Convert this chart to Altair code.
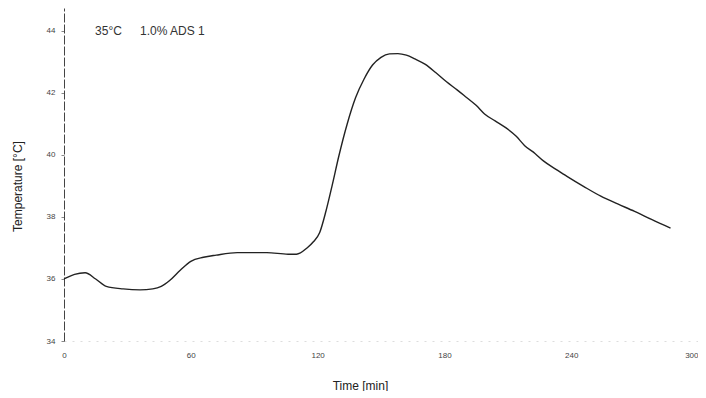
import altair as alt
import pandas as pd

time_min = [0, 5, 10, 15, 20, 28, 36, 42, 46, 50, 55, 60, 66, 72, 82, 96, 106, 110, 115, 118, 121, 124,
            127, 130, 134, 138, 142, 146, 150, 154, 158, 162, 166, 171, 176, 181, 186, 190, 195, 199,
            204, 209, 214, 218, 223, 227, 233, 238, 246, 254, 262, 270, 278, 287]
temperature = [36.0, 36.15, 36.2, 36.0, 35.76, 35.68, 35.65, 35.68, 35.76, 35.95, 36.28, 36.57, 36.7, 36.77,
               36.85, 36.85, 36.8, 36.8, 37.0, 37.2, 37.5, 38.2,
               39.05, 39.95, 41.0, 41.85, 42.45, 42.9, 43.15, 43.26, 43.27, 43.22, 43.1, 42.92, 42.65,
               42.36, 42.1, 41.88, 41.6, 41.32, 41.1, 40.88, 40.6, 40.3, 40.04, 39.8, 39.53, 39.31,
               38.98, 38.67, 38.42, 38.18, 37.92, 37.64]

ann_time = [14.7, 36.0]
ann_temp = [44, 44]
ann_text = ["35°C", "1.0% ADS 1"]

x_ticks = [0, 60, 120, 180, 240, 300]
y_ticks = [34, 36, 38, 40, 42, 44]

df = pd.DataFrame({"t": time_min, "T": temperature})
ann = pd.DataFrame({"t": ann_time, "T": ann_temp, "label": ann_text})

font = "Liberation Sans"

xscale = alt.Scale(domain=[0, 300], nice=False)
yscale = alt.Scale(domain=[34, 44.74], nice=False, zero=False)

line = alt.Chart(df).mark_line(color="#222222", strokeWidth=1.4, interpolate="monotone").encode(
    x=alt.X("t:Q", scale=xscale, title="Time [min]",
            axis=alt.Axis(values=x_ticks, domain=True, domainColor="#dddddd",
                          domainDash=[2, 6], ticks=False, grid=False, labelFontSize=8,
                          labelColor="#444444", labelPadding=10, labelFont=font, labelFlush=False,
                          labelAlign={"expr": "datum.value >= 300 ? 'right' : 'center'"},
                          titleFont=font, titleFontSize=12, titleFontWeight="normal",
                          titleColor="#222222", titleX=296, titleY=44, titleBaseline="middle")),
    y=alt.Y("T:Q", scale=yscale, title="Temperature [°C]",
            axis=alt.Axis(values=y_ticks, domain=True, domainColor="#444444",
                          domainDash=[9, 2], ticks=True, tickSize=3, tickColor="#888888",
                          grid=False, labelFontSize=8, labelColor="#444444", labelPadding=6,
                          labelFont=font, labelFlush=False, titleFont=font, titleFontSize=12,
                          titleFontWeight="normal", titleColor="#222222",
                          titleX=-40, titleY=178, titleAngle=-90, titleBaseline="bottom",
                          titleAlign="center")),
)

text = alt.Chart(ann).mark_text(align="left", baseline="middle", font=font, fontSize=12,
                                color="#333333").encode(
    x=alt.X("t:Q", scale=xscale), y=alt.Y("T:Q", scale=yscale), text="label:N")

chart = alt.layer(line, text).properties(
    width=634, height=333,
    background="white",
    autosize=alt.AutoSizeParams(type="none"),
    padding={"left": 56, "top": 0, "right": 0, "bottom": 50},
).configure_view(strokeWidth=0, stroke="transparent")

chart.save("out.html", embed_options={"renderer": "svg", "actions": False})
